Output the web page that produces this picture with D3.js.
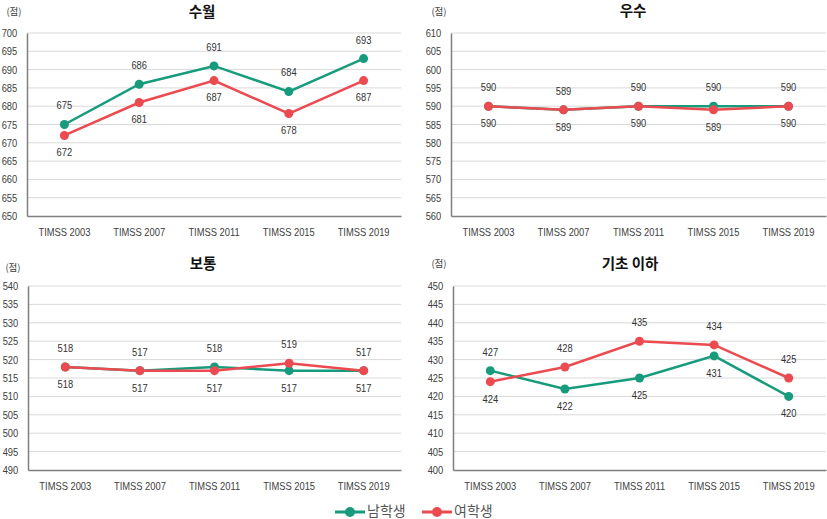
<!DOCTYPE html>
<html><head><meta charset="utf-8">
<script src="https://cdn.jsdelivr.net/npm/d3@7"></script>
<style>
body{margin:0;background:#fff;}
svg{display:block;}
</style></head>
<body>
<svg id="chart" width="827" height="519"></svg>
<script>
const categories = ["TIMSS 2003","TIMSS 2007","TIMSS 2011","TIMSS 2015","TIMSS 2019"];
const seriesNames = ["남학생","여학생"];
const panelTitles = ["수월","우수","보통","기초 이하"];
const unitLabel = "(점)";
const advancedMale   = [675,686,691,684,693];
const advancedFemale = [672,681,687,678,687];
const highMale       = [590,589,590,590,590];
const highFemale     = [590,589,590,589,590];
const interMale      = [518,517,518,517,517];
const interFemale    = [518,517,517,519,517];
const belowMale      = [427,422,425,431,420];
const belowFemale    = [424,428,435,434,425];
const yDomains = [[650,700],[560,610],[490,540],[400,450]];
const colors = ["#179b7d","#eb4b50"];

const svg = d3.select("#chart");
const numFont = '"Liberation Sans",Arial,sans-serif';
const krFont = '"Noto Sans CJK KR","Noto Sans",sans-serif';
const SX = 0.85;

const layouts = [
  {x0:27,  x1:401, y0:33,  y1:216, titleX:202, titleY:13,  unitX:14,  unitY:12},
  {x0:451, x1:826, y0:33,  y1:216, titleX:633, titleY:12,  unitX:439, unitY:12},
  {x0:28,  x1:401, y0:286, y1:470, titleX:203, titleY:265, unitX:13,  unitY:268},
  {x0:453, x1:826, y0:286, y1:470, titleX:630, titleY:265, unitX:439, unitY:264}
];
const panelData = [
  [advancedMale, advancedFemale],
  [highMale, highFemale],
  [interMale, interFemale],
  [belowMale, belowFemale]
];

layouts.forEach((L, i) => {
  const g = svg.append("g");
  const x = d3.scaleBand().domain(categories).range([L.x0, L.x1]);
  const y = d3.scaleLinear().domain(yDomains[i]).range([L.y1, L.y0]);
  const ticks = d3.range(yDomains[i][0], yDomains[i][1] + 1, 5);

  // gridlines
  g.append("g").selectAll("line").data(ticks.slice(1)).join("line")
    .attr("x1", L.x0).attr("x2", L.x1)
    .attr("y1", d => y(d)).attr("y2", d => y(d))
    .attr("stroke", "#d9d9d9").attr("stroke-width", 1);

  // y axis
  const ya = g.append("g").attr("transform", `translate(${L.x0},0)`)
    .call(d3.axisLeft(y).tickValues(ticks).tickSize(0).tickPadding(11.5));
  ya.select(".domain").attr("stroke", "#7f7f7f").attr("stroke-width", 1.5);
  ya.selectAll("text").attr("font-size", 11).attr("fill", "#404040")
    .attr("font-family", numFont).attr("transform", `scale(${SX},1)`);

  // x axis
  const xa = g.append("g").attr("transform", `translate(0,${L.y1})`)
    .call(d3.axisBottom(x).tickSize(0).tickPadding(12));
  xa.select(".domain").attr("stroke", "#7f7f7f").attr("stroke-width", 1.5);
  xa.selectAll("text").attr("font-size", 11).attr("fill", "#404040")
    .attr("font-family", numFont).attr("transform", `scale(${SX},1)`);

  // title
  g.append("text").attr("x", L.titleX).attr("y", L.titleY)
    .attr("text-anchor", "middle").attr("dominant-baseline", "middle")
    .attr("font-family", krFont).attr("font-weight", "bold").attr("font-size", 14.5)
    .attr("fill", "#111").text(panelTitles[i]);
  g.append("text").attr("x", L.unitX).attr("y", L.unitY)
    .attr("text-anchor", "middle").attr("dominant-baseline", "middle")
    .attr("font-family", krFont).attr("font-size", 9.5)
    .attr("fill", "#404040").text(unitLabel);

  const cx = c => x(c) + x.bandwidth() / 2;
  const line = d3.line().x((d, j) => cx(categories[j])).y(d => y(d));

  [0, 1].forEach(s => {
    const vals = panelData[i][s];
    g.append("path").datum(vals).attr("d", line)
      .attr("fill", "none").attr("stroke", colors[s]).attr("stroke-width", 2.5);
    g.append("g").selectAll("circle").data(vals).join("circle")
      .attr("cx", (d, j) => cx(categories[j])).attr("cy", d => y(d))
      .attr("r", 4.5).attr("fill", colors[s]);
  });

  // labels: higher value above, lower below (male above on ties)
  const [m, f] = panelData[i];
  categories.forEach((c, j) => {
    const maleTop = m[j] >= f[j];
    const items = [
      {v: m[j], dy: maleTop ? -18 : 18},
      {v: f[j], dy: maleTop ? 18 : -18}
    ];
    items.forEach(it => {
      g.append("text")
        .attr("transform", `translate(${cx(c)},${y(it.v) + it.dy}) scale(${SX},1)`)
        .attr("text-anchor", "middle").attr("dominant-baseline", "middle")
        .attr("font-family", numFont).attr("font-size", 11)
        .attr("fill", "#333").text(it.v);
    });
  });
});

// legend
const lg = svg.append("g");
const legendX = [335, 422];
seriesNames.forEach((name, s) => {
  const lx = legendX[s], ly = 512;
  lg.append("line").attr("x1", lx).attr("x2", lx + 30).attr("y1", ly).attr("y2", ly)
    .attr("stroke", colors[s]).attr("stroke-width", 3);
  lg.append("circle").attr("cx", lx + 15).attr("cy", ly).attr("r", 5).attr("fill", colors[s]);
  lg.append("text").attr("x", lx + 32).attr("y", ly).attr("dominant-baseline", "middle")
    .attr("font-family", krFont).attr("font-size", 14).attr("fill", "#555").text(name);
});
</script>
</body></html>
